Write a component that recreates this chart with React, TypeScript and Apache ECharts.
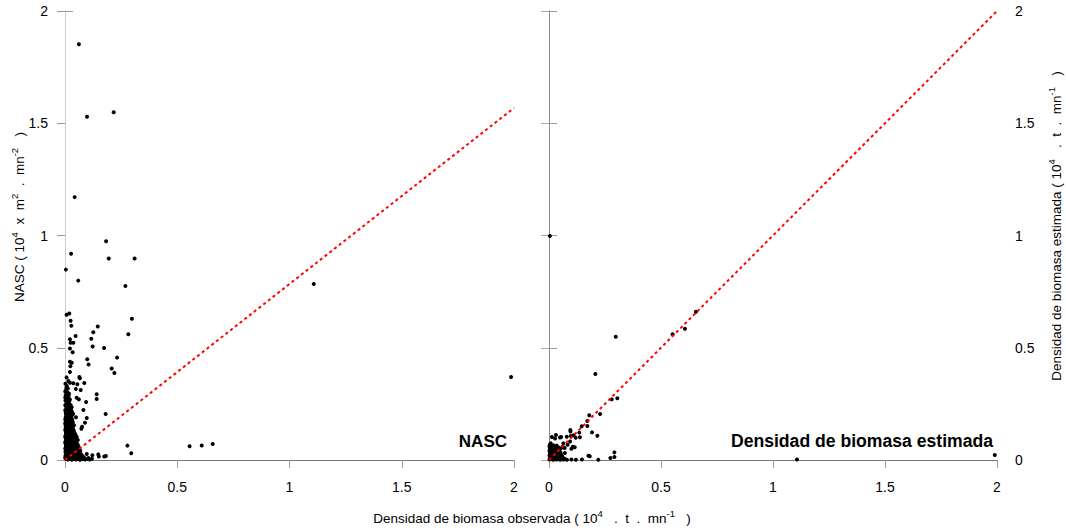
import { useEffect, useRef } from 'react';
import * as echarts from 'echarts';

const tickValues = [0, 0.5, 1, 1.5, 2];
const tickLabels = ['0', '0.5', '1', '1.5', '2'];

const panelTitles = ['NASC', 'Densidad de biomasa estimada'];

// Left panel: NASC vs observed biomass density
const nascSparse: number[][] = [
  [0.062, 1.852], [0.098, 1.529], [0.217, 1.549], [0.043, 1.171], [0.183, 0.974], [0.027, 0.919],
  [0.195, 0.898], [0.31, 0.898], [0.004, 0.848], [0.059, 0.799], [0.269, 0.775], [1.108, 0.784],
  [1.987, 0.37], [0.019, 0.653], [0.007, 0.647], [0.025, 0.62], [0.298, 0.629], [0.028, 0.598],
  [0.146, 0.595], [0.126, 0.569], [0.047, 0.552], [0.282, 0.56], [0.117, 0.54], [0.022, 0.538],
  [0.025, 0.522], [0.037, 0.522], [0.022, 0.497], [0.123, 0.506], [0.174, 0.499], [0.034, 0.48],
  [0.232, 0.456], [0.099, 0.449], [0.105, 0.425], [0.022, 0.438], [0.03, 0.433], [0.024, 0.418],
  [0.208, 0.408], [0.22, 0.388], [0.022, 0.392], [0.064, 0.37], [0.066, 0.364], [0.007, 0.368],
  [0.015, 0.352], [0.022, 0.344], [0.037, 0.342], [0.055, 0.337], [0.048, 0.316], [0.07, 0.312],
  [0.086, 0.343], [0.141, 0.293], [0.141, 0.272], [0.052, 0.277], [0.062, 0.27], [0.094, 0.258],
  [0.082, 0.223], [0.181, 0.205], [0.049, 0.19], [0.097, 0.187], [0.089, 0.166], [0.076, 0.148],
  [0.073, 0.139], [0.278, 0.064], [0.295, 0.03], [0.555, 0.061], [0.609, 0.065], [0.658, 0.071],
  [0.052, 0.104], [0.057, 0.089], [0.097, 0.027], [0.122, 0.021], [0.148, 0.025], [0.151, 0.016],
  [0.175, 0.016], [0.182, 0.018], [0.104, 0.009]
];

const nascDense: number[][] = [
  [0.002, 0.34], [0.008, 0.33], [0.004, 0.31], [0.012, 0.3], [0.003, 0.29], [0.018, 0.295],
  [0.007, 0.28], [0.014, 0.275], [0.022, 0.27], [0.002, 0.265], [0.009, 0.255], [0.016, 0.25],
  [0.025, 0.245], [0.004, 0.24], [0.011, 0.235], [0.02, 0.23], [0.03, 0.235], [0.006, 0.225],
  [0.014, 0.215], [0.024, 0.212], [0.003, 0.21], [0.01, 0.2], [0.019, 0.198], [0.028, 0.2],
  [0.036, 0.205], [0.003, 0.19], [0.009, 0.185], [0.016, 0.182], [0.024, 0.186], [0.032, 0.18],
  [0.004, 0.172], [0.011, 0.168], [0.019, 0.17], [0.027, 0.165], [0.035, 0.168], [0.002, 0.158],
  [0.008, 0.155], [0.015, 0.152], [0.022, 0.156], [0.03, 0.15], [0.04, 0.155], [0.005, 0.142],
  [0.012, 0.14], [0.02, 0.138], [0.028, 0.142], [0.036, 0.136], [0.003, 0.128], [0.01, 0.125],
  [0.017, 0.127], [0.025, 0.122], [0.033, 0.126], [0.042, 0.12], [0.006, 0.112], [0.013, 0.11],
  [0.021, 0.113], [0.029, 0.108], [0.038, 0.11], [0.046, 0.115], [0.002, 0.1], [0.009, 0.098],
  [0.016, 0.096], [0.024, 0.1], [0.032, 0.094], [0.04, 0.097], [0.05, 0.1], [0.004, 0.088],
  [0.011, 0.085], [0.019, 0.087], [0.027, 0.082], [0.035, 0.086], [0.043, 0.08], [0.052, 0.084],
  [0.002, 0.074], [0.008, 0.072], [0.015, 0.07], [0.023, 0.073], [0.031, 0.068], [0.039, 0.071],
  [0.047, 0.066], [0.056, 0.07], [0.005, 0.058], [0.012, 0.056], [0.02, 0.059], [0.028, 0.054],
  [0.036, 0.057], [0.044, 0.052], [0.053, 0.055], [0.062, 0.05], [0.003, 0.044], [0.01, 0.042],
  [0.018, 0.045], [0.026, 0.04], [0.034, 0.043], [0.042, 0.038], [0.05, 0.041], [0.058, 0.036],
  [0.068, 0.04], [0.006, 0.03], [0.013, 0.028], [0.021, 0.031], [0.029, 0.026], [0.037, 0.029],
  [0.045, 0.024], [0.054, 0.027], [0.063, 0.022], [0.072, 0.025], [0.002, 0.016], [0.009, 0.014],
  [0.017, 0.017], [0.025, 0.012], [0.033, 0.015], [0.041, 0.01], [0.049, 0.013], [0.058, 0.009],
  [0.067, 0.012], [0.076, 0.008], [0.085, 0.011], [0.005, 0.004], [0.013, 0.002], [0.021, 0.005],
  [0.03, 0.001], [0.039, 0.004], [0.048, 0.002], [0.057, 0.005], [0.066, 0.001], [0.075, 0.003],
  [0.09, 0.002], [0.1, 0.004], [0.11, 0.002], [0.12, 0.006],
  [0.006, 0.322], [0.013, 0.318], [0.001, 0.305], [0.009, 0.298], [0.016, 0.285], [0.001, 0.278],
  [0.011, 0.268], [0.019, 0.262], [0.006, 0.252], [0.001, 0.244], [0.018, 0.24], [0.007, 0.232],
  [0.027, 0.225], [0.001, 0.222], [0.017, 0.22], [0.009, 0.212], [0.031, 0.215], [0.005, 0.203],
  [0.023, 0.205], [0.006, 0.195], [0.013, 0.192], [0.021, 0.19], [0.029, 0.193], [0.001, 0.18],
  [0.007, 0.177], [0.014, 0.175], [0.023, 0.176], [0.031, 0.172], [0.001, 0.165], [0.008, 0.162],
  [0.016, 0.16], [0.025, 0.161], [0.033, 0.158], [0.003, 0.148], [0.011, 0.147], [0.018, 0.145],
  [0.026, 0.149], [0.034, 0.145], [0.001, 0.135], [0.008, 0.133], [0.015, 0.134], [0.023, 0.131],
  [0.031, 0.134], [0.039, 0.13], [0.004, 0.12], [0.011, 0.118], [0.019, 0.119], [0.027, 0.116],
  [0.035, 0.119], [0.001, 0.106], [0.009, 0.104], [0.017, 0.105], [0.025, 0.107], [0.033, 0.103],
  [0.043, 0.105], [0.006, 0.093], [0.014, 0.092], [0.022, 0.094], [0.03, 0.09], [0.038, 0.092],
  [0.046, 0.09], [0.001, 0.08], [0.007, 0.079], [0.015, 0.078], [0.023, 0.08], [0.031, 0.077],
  [0.039, 0.078], [0.048, 0.075], [0.004, 0.064], [0.012, 0.063], [0.019, 0.065], [0.027, 0.062],
  [0.035, 0.064], [0.043, 0.06], [0.051, 0.062], [0.06, 0.06], [0.001, 0.051], [0.008, 0.05],
  [0.016, 0.049], [0.024, 0.051], [0.032, 0.048], [0.04, 0.047], [0.048, 0.049], [0.057, 0.045],
  [0.065, 0.047], [0.002, 0.036], [0.009, 0.035], [0.017, 0.037], [0.025, 0.034], [0.033, 0.036],
  [0.041, 0.032], [0.049, 0.034], [0.055, 0.031], [0.063, 0.033], [0.003, 0.022], [0.011, 0.021],
  [0.019, 0.023], [0.027, 0.02], [0.035, 0.022], [0.043, 0.018], [0.051, 0.02], [0.06, 0.017],
  [0.069, 0.019], [0.078, 0.018], [0.001, 0.009], [0.009, 0.008], [0.017, 0.01], [0.025, 0.006],
  [0.033, 0.009], [0.045, 0.007], [0.053, 0.009], [0.062, 0.006], [0.071, 0.007], [0.08, 0.005]
];

// Right panel: estimated vs observed biomass density
const biomSparse: number[][] = [
  [0.004, 0.998], [0.298, 0.549], [0.552, 0.56], [0.607, 0.585], [0.656, 0.66], [0.207, 0.383],
  [0.305, 0.275], [0.28, 0.27], [0.228, 0.205], [0.18, 0.199], [0.171, 0.174], [0.171, 0.151],
  [0.146, 0.15], [0.135, 0.122], [0.138, 0.101], [0.192, 0.123], [0.216, 0.108], [0.095, 0.134],
  [0.096, 0.127], [0.11, 0.11], [0.119, 0.099], [0.097, 0.107], [0.079, 0.104], [0.054, 0.102],
  [0.049, 0.1], [0.031, 0.111], [0.027, 0.096], [0.013, 0.102], [0.008, 0.074], [0.064, 0.074],
  [0.061, 0.059], [0.07, 0.053], [0.106, 0.059], [0.115, 0.057], [0.1, 0.05], [0.094, 0.082],
  [0.083, 0.068], [0.071, 0.031], [0.176, 0.019], [0.182, 0.017], [0.292, 0.034], [0.274, 0.009],
  [0.292, 0.013], [0.22, 0.001], [0.147, 0.002], [1.107, 0.002], [1.99, 0.022]
];

const biomDense: number[][] = [
  [0.002, 0.06], [0.01, 0.062], [0.018, 0.058], [0.026, 0.06], [0.004, 0.05], [0.012, 0.052],
  [0.02, 0.048], [0.028, 0.05], [0.036, 0.047], [0.002, 0.04], [0.009, 0.042], [0.016, 0.038],
  [0.024, 0.041], [0.032, 0.037], [0.04, 0.04], [0.048, 0.036], [0.005, 0.03], [0.013, 0.032],
  [0.021, 0.028], [0.029, 0.031], [0.037, 0.027], [0.045, 0.03], [0.053, 0.026], [0.002, 0.02],
  [0.009, 0.022], [0.017, 0.018], [0.025, 0.021], [0.033, 0.017], [0.041, 0.02], [0.049, 0.016],
  [0.057, 0.019], [0.005, 0.01], [0.013, 0.012], [0.021, 0.008], [0.029, 0.011], [0.037, 0.007],
  [0.045, 0.01], [0.053, 0.006], [0.061, 0.009], [0.002, 0.002], [0.01, 0.004], [0.018, 0.001],
  [0.026, 0.003], [0.034, 0.002], [0.042, 0.004], [0.05, 0.001], [0.058, 0.003], [0.066, 0.002],
  [0.08, 0.001], [0.1, 0.002], [0.12, 0.001],
  [0.006, 0.055], [0.014, 0.057], [0.022, 0.054], [0.03, 0.056], [0.006, 0.045], [0.013, 0.046],
  [0.021, 0.043], [0.029, 0.045], [0.037, 0.042], [0.044, 0.044], [0.006, 0.035], [0.013, 0.036],
  [0.02, 0.034], [0.028, 0.036], [0.036, 0.033], [0.044, 0.035], [0.051, 0.032], [0.006, 0.025],
  [0.013, 0.026], [0.021, 0.024], [0.029, 0.025], [0.037, 0.022], [0.045, 0.024], [0.053, 0.022],
  [0.006, 0.015], [0.013, 0.016], [0.021, 0.014], [0.029, 0.016], [0.037, 0.013], [0.045, 0.015],
  [0.053, 0.013], [0.06, 0.015], [0.006, 0.006], [0.014, 0.007], [0.022, 0.005], [0.03, 0.006],
  [0.038, 0.004], [0.046, 0.006], [0.054, 0.004], [0.062, 0.005], [0.07, 0.006], [0.004, 0.068],
  [0.02, 0.066], [0.035, 0.064], [0.045, 0.055], [0.052, 0.05]
];

// Reference lines: end value at x = 2
const nascLine: number[][] = [[0, 0], [2, 1.568]];
const biomLine: number[][] = [[0, 0], [2, 2]];

const FONT = 'Liberation Sans, Arial, sans-serif';
const SP = '\u00A0';
const gap = (n: number) => SP.repeat(n);

export default function App() {
  const ref = useRef<HTMLDivElement>(null);

  useEffect(() => {
    if (!ref.current) return;
    const chart = echarts.init(ref.current, undefined, { renderer: 'svg' });

    const labelFmt = (v: number) => {
      const i = tickValues.indexOf(v);
      return i >= 0 ? tickLabels[i] : '';
    };

    const base = { min: 0, max: 2, interval: 0.5, type: 'value' as const, splitLine: { show: false } };

    const xBottom = (gi: number) => ({
      ...base,
      gridIndex: gi,
      position: 'bottom',
      axisLine: { show: true, lineStyle: { color: '#777', width: 1 } },
      axisTick: { show: true, length: 8, lineStyle: { color: '#999' } },
      axisLabel: { show: true, margin: 20, fontSize: 14, color: '#000', fontFamily: FONT, formatter: labelFmt },
    });
    const xTop = (gi: number) => ({
      ...base,
      gridIndex: gi,
      position: 'top',
      axisLine: { show: true, lineStyle: { color: '#777', width: 1 } },
      axisTick: { show: false },
      axisLabel: { show: false },
    });

    const rich = {
      b: { fontSize: 13.5, fontFamily: FONT, color: '#000', lineHeight: 20 },
      s: { fontSize: 9.5, fontFamily: FONT, color: '#000', verticalAlign: 'top' },
    };

    const unitsBiomass = `{b|${SP}(${SP}10}{s|4}{b|${gap(3)}.${gap(2)}t${gap(2)}.${gap(2)}mn}{s|-1}{b|${gap(3)})}`;

    const scatterStyle = { color: '#000', opacity: 1 };

    const option: any = {
      animation: false,
      textStyle: { fontFamily: FONT },
      grid: [
        { left: 65, top: 11, width: 449, height: 449 },
        { left: 549, top: 11, width: 448, height: 449 },
      ],
      xAxis: [xBottom(0), xTop(0), xBottom(1), xTop(1)],
      yAxis: [
        {
          ...base, gridIndex: 0, position: 'left',
          axisLine: { show: true, lineStyle: { color: '#ccc' } },
          axisTick: { show: true, length: 8, lineStyle: { color: '#999' } },
          axisLabel: { show: true, margin: 17, fontSize: 14, color: '#000', fontFamily: FONT, formatter: labelFmt },
        },
        {
          ...base, gridIndex: 0, position: 'right',
          axisLine: { show: true, lineStyle: { color: '#ccc' } },
          axisTick: { show: true, length: 8, customValues: [0, 2], lineStyle: { color: '#999' } },
          axisLabel: { show: false },
        },
        {
          ...base, gridIndex: 1, position: 'left',
          axisLine: { show: true, lineStyle: { color: '#888' } },
          axisTick: { show: true, length: 8, lineStyle: { color: '#aaa' } },
          axisLabel: { show: false },
        },
        {
          ...base, gridIndex: 1, position: 'right',
          axisLine: { show: true, lineStyle: { color: '#888' } },
          axisTick: { show: true, length: 8, lineStyle: { color: '#999' } },
          axisLabel: { show: true, margin: 18, fontSize: 14, color: '#000', fontFamily: FONT, formatter: labelFmt },
        },
      ],
      series: [
        {
          type: 'scatter', xAxisIndex: 0, yAxisIndex: 0, z: 2,
          data: [...nascDense, ...nascSparse],
          symbol: 'circle', symbolSize: 4, itemStyle: scatterStyle,
        },
        {
          type: 'line', xAxisIndex: 0, yAxisIndex: 0, z: 5, data: nascLine,
          showSymbol: false, symbol: 'none',
          lineStyle: { color: '#ff0000', width: 2, type: [3, 3] },
        },
        {
          type: 'scatter', xAxisIndex: 2, yAxisIndex: 2, z: 2,
          data: [...biomDense, ...biomSparse],
          symbol: 'circle', symbolSize: 4, itemStyle: scatterStyle,
        },
        {
          type: 'line', xAxisIndex: 2, yAxisIndex: 2, z: 5, data: biomLine,
          showSymbol: false, symbol: 'none',
          lineStyle: { color: '#ff0000', width: 2, type: [3, 3] },
        },
      ],
      graphic: [
        {
          type: 'text', x: 507, y: 441, z: 10,
          style: { text: panelTitles[0], font: 'bold 17px ' + FONT, fill: '#000', align: 'right', verticalAlign: 'middle' },
        },
        {
          type: 'text', x: 993, y: 441, z: 10,
          style: { text: panelTitles[1], font: 'bold 17.6px ' + FONT, fill: '#000', align: 'right', verticalAlign: 'middle' },
        },
        {
          type: 'text', x: 532, y: 518,
          style: {
            text: '{b|Densidad de biomasa observada}' + unitsBiomass,
            rich, align: 'center', verticalAlign: 'middle',
          },
        },
        {
          type: 'text', x: 19, y: 217, rotation: Math.PI / 2,
          style: {
            text: `{b|NASC${SP}(${SP}10}{s|4}{b|${gap(2)}x${gap(2)}m}{s|2}{b|${gap(2)}.${gap(2)}mn}{s|-2}{b|${gap(3)})}`,
            rich, align: 'center', verticalAlign: 'middle',
          },
        },
        {
          type: 'text', x: 1056, y: 226, rotation: Math.PI / 2,
          style: {
            text: '{b|Densidad de biomasa estimada}' + unitsBiomass,
            rich, align: 'center', verticalAlign: 'middle',
          },
        },
      ],
    };

    chart.setOption(option);
    return () => chart.dispose();
  }, []);

  return (
    <div
      ref={ref}
      style={{ position: 'fixed', left: 0, top: 0, width: 1066, height: 531, background: '#fff' }}
    />
  );
}
